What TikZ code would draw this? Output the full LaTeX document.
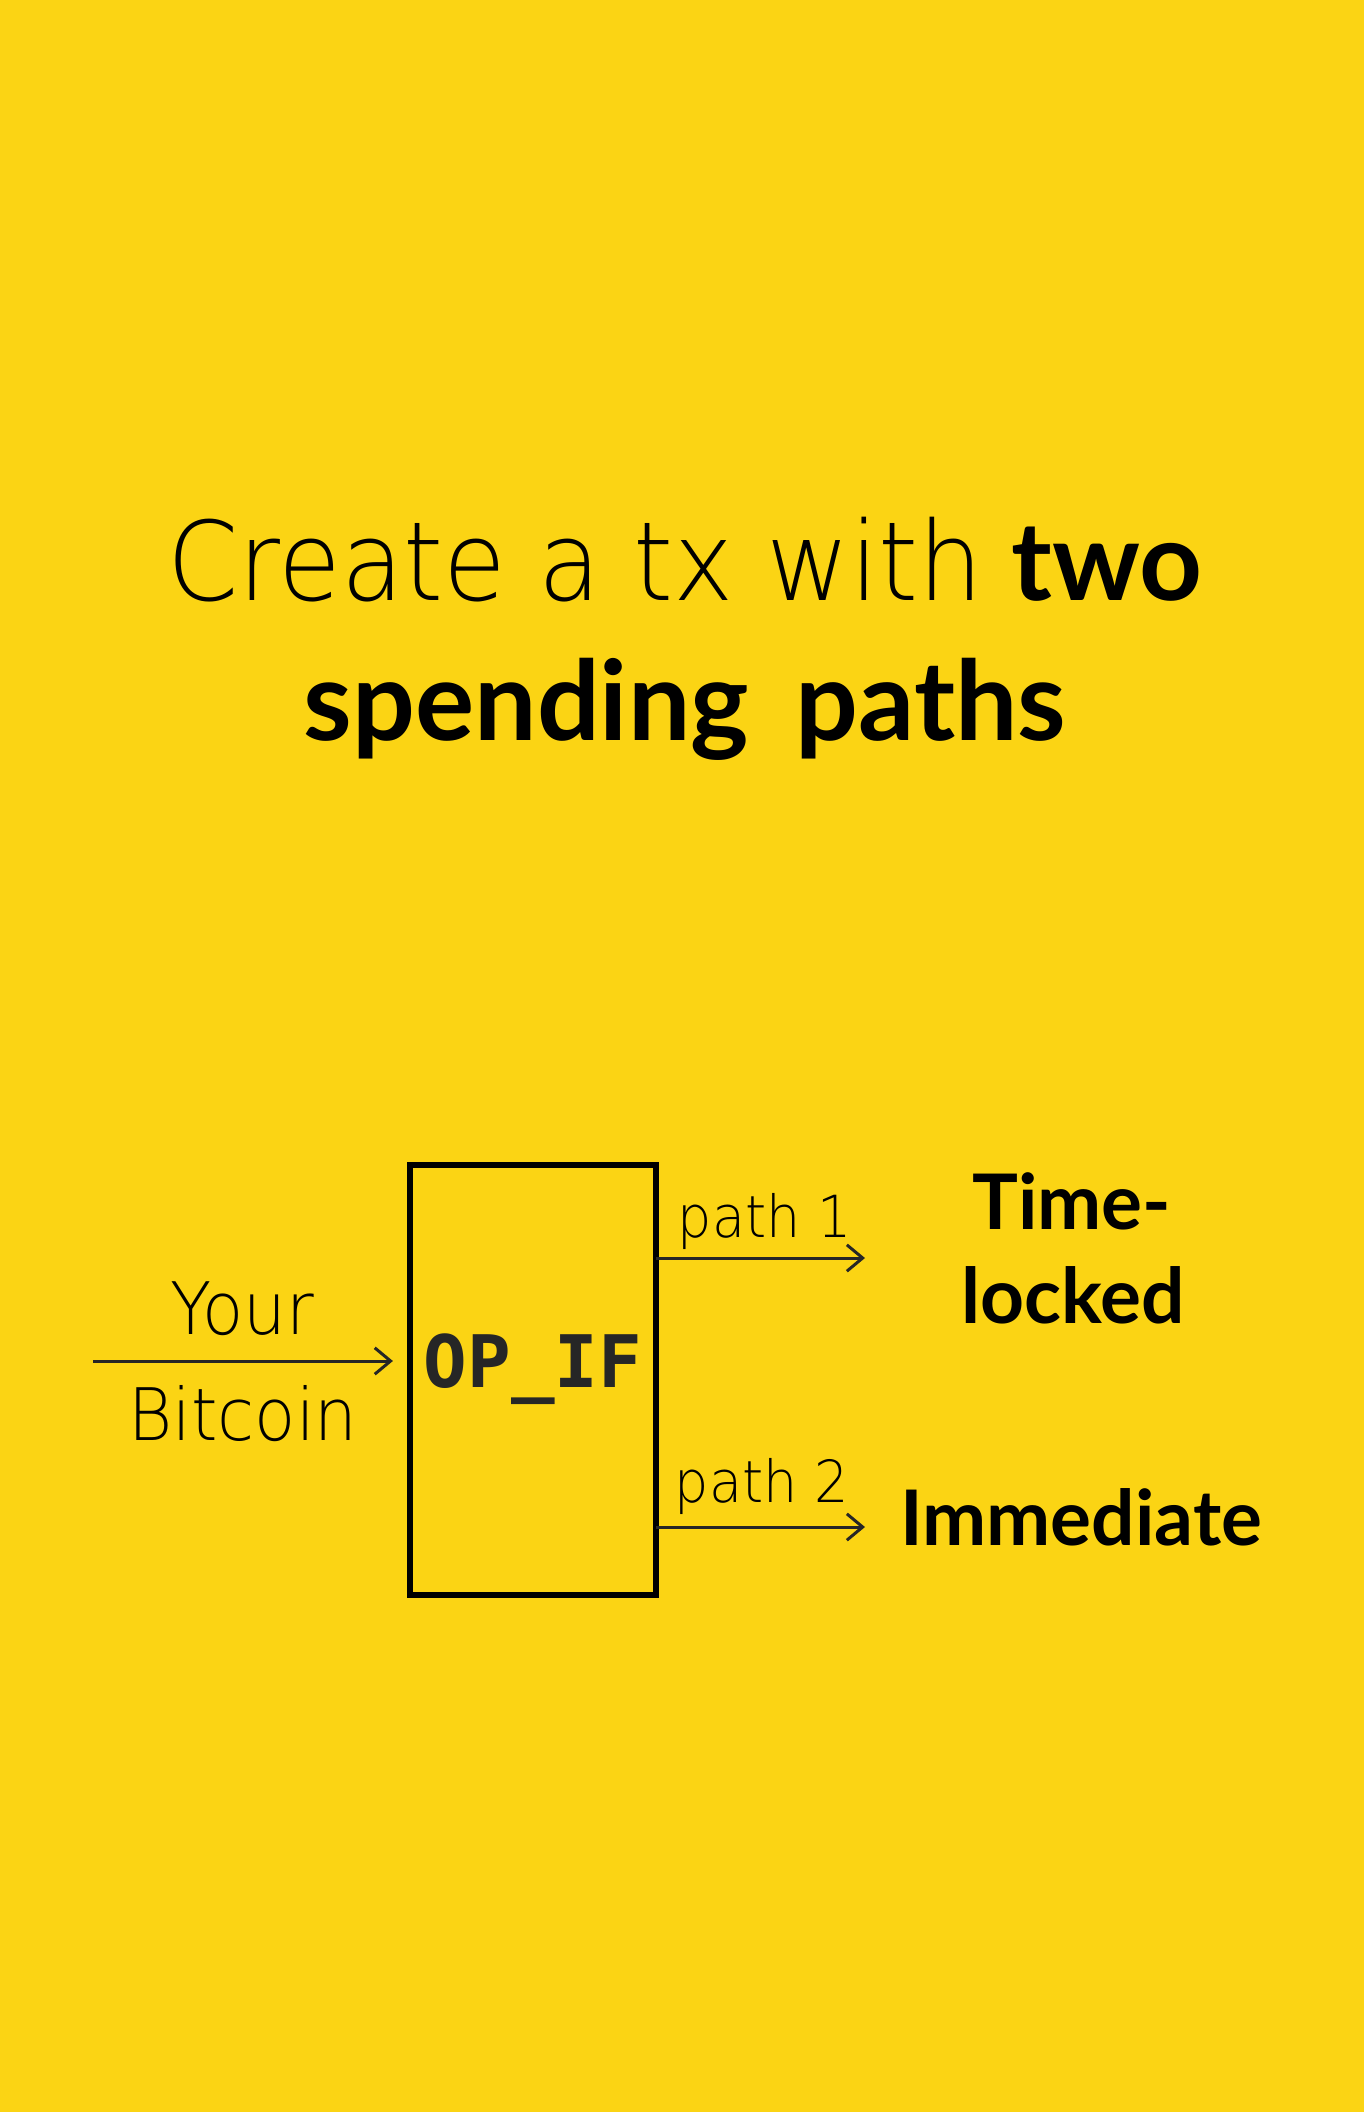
\documentclass[tikz,border=0pt]{standalone}
\usepackage{fontspec}
\setmainfont{Lato}
\newfontfamily\thinfont{DejaVu Sans ExtraLight}[FakeStretch=0.93]
\newfontfamily\opfont{DejaVu Sans Mono}
\usepackage{tikz}
\usetikzlibrary{arrows.meta,calc,positioning}
\definecolor{bgyellow}{RGB}{251,212,20}
\definecolor{inkgray}{RGB}{38,38,38}

\tikzset{
  thinlbl/.style={font=\thinfont\fontsize{20.6}{24}\selectfont, inner sep=0pt, anchor=base},
  pathlbl/.style={font=\thinfont\fontsize{16.5}{20}\selectfont, inner sep=0pt, anchor=base},
  boldlbl/.style={font=\bfseries\fontsize{21.8}{26}\selectfont, inner sep=0pt, anchor=base},
  flow/.style={line width=0.85pt, draw=inkgray, -{Straight Barb[length=4.5pt,width=7.5pt,line width=0.85pt]}}
}

\begin{document}
\begin{tikzpicture}[x=0.01cm, y=-0.01cm]
\useasboundingbox (0,0) rectangle (1364,2112);
\fill[bgyellow] (0,0) rectangle (1364,2112);
% --- titolo ---
\node[inner sep=0pt, anchor=base, font=\fontsize{31.2}{40}\selectfont] (title) at (685,600)
  {{\thinfont Create a tx with} \textbf{two}};
\node[inner sep=0pt, anchor=base, font=\bfseries\fontsize{31.5}{40}\selectfont] (subtitle) at (685,740)
  {spending\hspace{0.42em}paths};
% --- blocco OP_IF ---
\node[draw=black, line width=1.7pt, minimum width=2.46cm, minimum height=4.30cm, outer sep=0pt] (box) at (533,1380) {};
\node[font=\opfont\bfseries\fontsize{20.6}{24}\selectfont, text=inkgray, inner sep=0pt, anchor=base] (opif) at (533,1387) {OP\_IF};
% --- ingresso ---
\coordinate (src) at (93,1361);
\draw[flow, shorten >=0.17cm] (src) -- (src -| box.west);
\node[thinlbl] (your) at (242,1334) {Your};
\node[thinlbl] (bitcoin) at (243,1440) {Bitcoin};
% --- uscite ---
\coordinate (out1) at (865,1258);
\coordinate (out2) at (865,1527);
\draw[flow] (out1 -| box.east) -- (out1);
\draw[flow] (out2 -| box.east) -- (out2);
\node[pathlbl] (path1) at (765,1237) {path 1};
\node[pathlbl] (path2) at (762,1502) {path 2};
\node[boldlbl] (timeA) at (1072,1229) {Time-};
\node[boldlbl] (timeB) at (1073,1323) {locked};
\node[boldlbl] (immediate) at (1081,1545) {Immediate};
\end{tikzpicture}
\end{document}
